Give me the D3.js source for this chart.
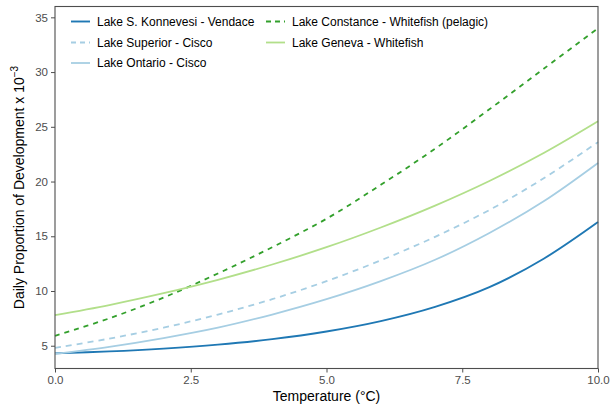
<!DOCTYPE html>
<html>
<head>
<meta charset="utf-8">
<script src="https://cdn.jsdelivr.net/npm/d3@7"></script>
<style>
  body { margin: 0; background: #fff; }
  svg { display: block; font-family: "Liberation Sans", Arial, Helvetica, sans-serif; }
</style>
</head>
<body>
<svg id="chart" width="611" height="408"></svg>
<script>
// ---- data ----
const temperature = [0, 1, 2, 3, 4, 5, 6, 7, 8, 9, 10];
const vendaceKonnevesi = [4.30, 4.48, 4.74, 5.10, 5.60, 6.30, 7.25, 8.55, 10.35, 12.95, 16.30];
const ciscoSuperior    = [4.80, 5.65, 6.65, 7.85, 9.25, 10.90, 12.80, 14.95, 17.40, 20.30, 23.60];
const ciscoOntario     = [4.25, 4.90, 5.70, 6.65, 7.85, 9.25, 10.90, 12.85, 15.30, 18.20, 21.70];
const whitefishConstance = [5.90, 7.50, 9.40, 11.60, 14.00, 16.60, 19.70, 23.00, 26.60, 30.30, 34.00];
const whitefishGeneva  = [7.80, 8.72, 9.80, 11.02, 12.42, 14.00, 15.80, 17.80, 20.05, 22.60, 25.50];
const seriesNames = [
  "Lake S. Konnevesi - Vendace",
  "Lake Superior - Cisco",
  "Lake Ontario - Cisco",
  "Lake Constance - Whitefish (pelagic)",
  "Lake Geneva - Whitefish"
];
const xTicks = [0, 2.5, 5, 7.5, 10];
const yTicks = [5, 10, 15, 20, 25, 30, 35];

// ---- styles ----
const seriesValues = [vendaceKonnevesi, ciscoSuperior, ciscoOntario, whitefishConstance, whitefishGeneva];
const colors = ["#1f78b4", "#a6cee3", "#a6cee3", "#33a02c", "#b2df8a"];
const dashes = [null, "6,5", null, "5,5", null];
const widths = [1.9, 1.8, 1.8, 1.8, 1.8];

const series = seriesNames.map((name, i) => ({
  name, color: colors[i], dash: dashes[i], width: widths[i],
  points: temperature.map((t, j) => ({ t, v: seriesValues[i][j] }))
}));

const svg = d3.select("#chart");
const mLeft = 55, mRight = 598, mTop = 6.5, mBottom = 368.5;

const x = d3.scaleLinear().domain([0, 10]).range([mLeft, mRight]);
const y = d3.scaleLinear().domain([2.92, 35.99]).range([mBottom, mTop]);

// lines
const line = d3.line().x(d => x(d.t)).y(d => y(d.v)).curve(d3.curveCatmullRom.alpha(0.5));
svg.append("g").selectAll("path").data(series).join("path")
  .attr("d", d => line(d.points))
  .attr("fill", "none")
  .attr("stroke", d => d.color)
  .attr("stroke-width", d => d.width)
  .attr("stroke-dasharray", d => d.dash);

// panel border
svg.append("rect")
  .attr("x", mLeft).attr("y", mTop)
  .attr("width", mRight - mLeft).attr("height", mBottom - mTop)
  .attr("fill", "none").attr("stroke", "#4d4d4d").attr("stroke-width", 1.1);

// axes
const xAxis = svg.append("g").attr("transform", `translate(0,${mBottom})`)
  .call(d3.axisBottom(x).tickValues(xTicks).tickFormat(d3.format(".1f")).tickSize(4).tickPadding(3));
const yAxis = svg.append("g").attr("transform", `translate(${mLeft},0)`)
  .call(d3.axisLeft(y).tickValues(yTicks).tickSize(4).tickPadding(3));
[xAxis, yAxis].forEach(a => {
  a.select(".domain").remove();
  a.selectAll(".tick line").attr("stroke", "#4d4d4d").attr("stroke-width", 1);
  a.selectAll(".tick text").attr("fill", "#4d4d4d").style("font-size", "11.5px")
    .style("font-family", "'Liberation Sans', Arial, sans-serif");
});

// axis titles
svg.append("text")
  .attr("x", (mLeft + mRight) / 2).attr("y", 401)
  .attr("text-anchor", "middle").attr("fill", "#000")
  .style("font-size", "14px")
  .text("Temperature (°C)");

const yt = svg.append("text")
  .attr("transform", `translate(24,${(mTop + mBottom) / 2}) rotate(-90)`)
  .attr("text-anchor", "middle").attr("fill", "#000")
  .style("font-size", "14px");
yt.append("tspan").text("Daily Proportion of Development x 10");
yt.append("tspan").attr("dy", -6).style("font-size", "10px").text("−3");

// legend
const legendPos = [
  { col: 0, row: 0 }, { col: 0, row: 1 }, { col: 0, row: 2 },
  { col: 1, row: 0 }, { col: 1, row: 1 }
];
const colX = [71, 266];
const rowY = [21.5, 42.5, 63];
const lg = svg.append("g");
series.forEach((s, i) => {
  const p = legendPos[i];
  const gx = colX[p.col], gy = rowY[p.row];
  lg.append("line")
    .attr("x1", gx).attr("x2", gx + 19).attr("y1", gy).attr("y2", gy)
    .attr("stroke", s.color).attr("stroke-width", s.width)
    .attr("stroke-dasharray", s.dash ? "5,4" : null);
  lg.append("text")
    .attr("x", gx + 26).attr("y", gy).attr("dy", "0.35em")
    .attr("fill", "#000").style("font-size", "12px")
    .text(s.name);
});
</script>
</body>
</html>
